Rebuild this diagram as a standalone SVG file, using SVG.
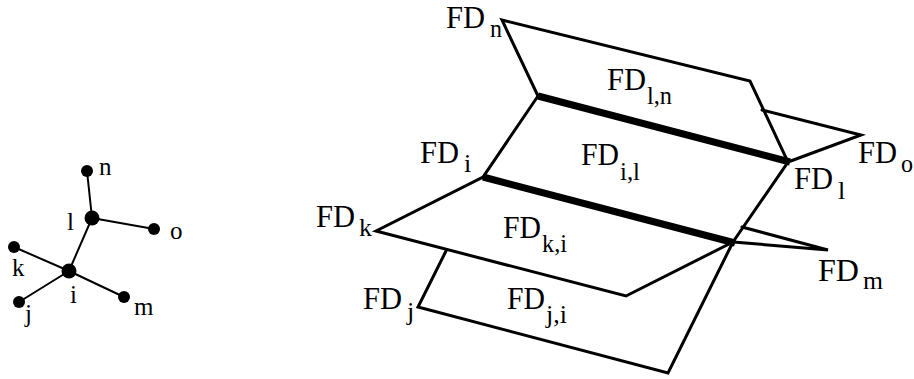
<svg xmlns="http://www.w3.org/2000/svg" width="914" height="379" viewBox="0 0 914 379">
<style>
text{font-family:"Liberation Serif","Times New Roman",serif;fill:#000}
.m{font-size:32px}
.s{font-size:26px}
.l{font-size:25px}
.e{fill:none;stroke:#000;stroke-width:3;stroke-linejoin:miter;stroke-linecap:round}
.t{fill:none;stroke:#000;stroke-width:7;stroke-linecap:butt}
.g{fill:none;stroke:#000;stroke-width:2}
</style>
<rect width="914" height="379" fill="#fff"/>
<g id="connectors">
<path class="g" d="M87 171L92 218M92 218L154 229M92 218L69 271M69 271L14 247M69 271L19 302M69 271L124 297"/>
<path class="e" d="M538 96L502 20L750 81L788 162L733 242L668 373L418 307L446 251"/>
<path class="e" d="M538 96L483 177L376 231L626 296L733 242"/>
<path class="e" d="M762 110L861 135L788 162"/>
<path class="e" d="M742 227L828 250L733 242"/>
<path class="t" d="M538 96L790 162"/>
<path class="t" d="M483 177L735 243"/>
</g>
<g id="node-n"><circle cx="87" cy="171" r="6"/><text class="l" x="99" y="175">n</text></g>
<g id="node-l"><circle cx="92" cy="218" r="7.5"/><text class="l" x="67" y="230">l</text></g>
<g id="node-o"><circle cx="154" cy="229" r="6"/><text class="l" x="170" y="239">o</text></g>
<g id="node-i"><circle cx="69" cy="271" r="7.5"/><text class="l" x="70" y="303">i</text></g>
<g id="node-k"><circle cx="14" cy="247" r="6"/><text class="l" x="12" y="276">k</text></g>
<g id="node-j"><circle cx="19" cy="302" r="6"/><text class="l" x="25" y="322">j</text></g>
<g id="node-m"><circle cx="124" cy="297" r="6"/><text class="l" x="134" y="315">m</text></g>
<g id="label-FDn"><text class="m" x="446" y="28" textLength="39" lengthAdjust="spacingAndGlyphs">FD</text><text class="s" x="490" y="37" textLength="12" lengthAdjust="spacingAndGlyphs">n</text></g>
<g id="label-FDi"><text class="m" x="420" y="163" textLength="39" lengthAdjust="spacingAndGlyphs">FD</text><text class="s" x="464" y="172">i</text></g>
<g id="label-FDk"><text class="m" x="316" y="227" textLength="39" lengthAdjust="spacingAndGlyphs">FD</text><text class="s" x="359" y="236" textLength="13" lengthAdjust="spacingAndGlyphs">k</text></g>
<g id="label-FDj"><text class="m" x="363" y="309" textLength="39" lengthAdjust="spacingAndGlyphs">FD</text><text class="s" x="407" y="320">j</text></g>
<g id="label-FDln"><text class="m" x="607" y="90" textLength="39" lengthAdjust="spacingAndGlyphs">FD</text><text class="s" x="647" y="104" textLength="25" lengthAdjust="spacingAndGlyphs">l,n</text></g>
<g id="label-FDil"><text class="m" x="581" y="165" textLength="38" lengthAdjust="spacingAndGlyphs">FD</text><text class="s" x="620" y="180" textLength="20" lengthAdjust="spacingAndGlyphs">i,l</text></g>
<g id="label-FDki"><text class="m" x="503" y="238" textLength="38" lengthAdjust="spacingAndGlyphs">FD</text><text class="s" x="542" y="252" textLength="25" lengthAdjust="spacingAndGlyphs">k,i</text></g>
<g id="label-FDji"><text class="m" x="507" y="309" textLength="38" lengthAdjust="spacingAndGlyphs">FD</text><text class="s" x="546" y="323" textLength="21" lengthAdjust="spacingAndGlyphs">j,i</text></g>
<g id="label-FDl"><text class="m" x="794" y="189" textLength="39" lengthAdjust="spacingAndGlyphs">FD</text><text class="s" x="838" y="199">l</text></g>
<g id="label-FDo"><text class="m" x="858" y="163" textLength="39" lengthAdjust="spacingAndGlyphs">FD</text><text class="s" x="901" y="172" textLength="12" lengthAdjust="spacingAndGlyphs">o</text></g>
<g id="label-FDm"><text class="m" x="818" y="281" textLength="41" lengthAdjust="spacingAndGlyphs">FD</text><text class="s" x="863" y="289" textLength="20" lengthAdjust="spacingAndGlyphs">m</text></g>
</svg>
